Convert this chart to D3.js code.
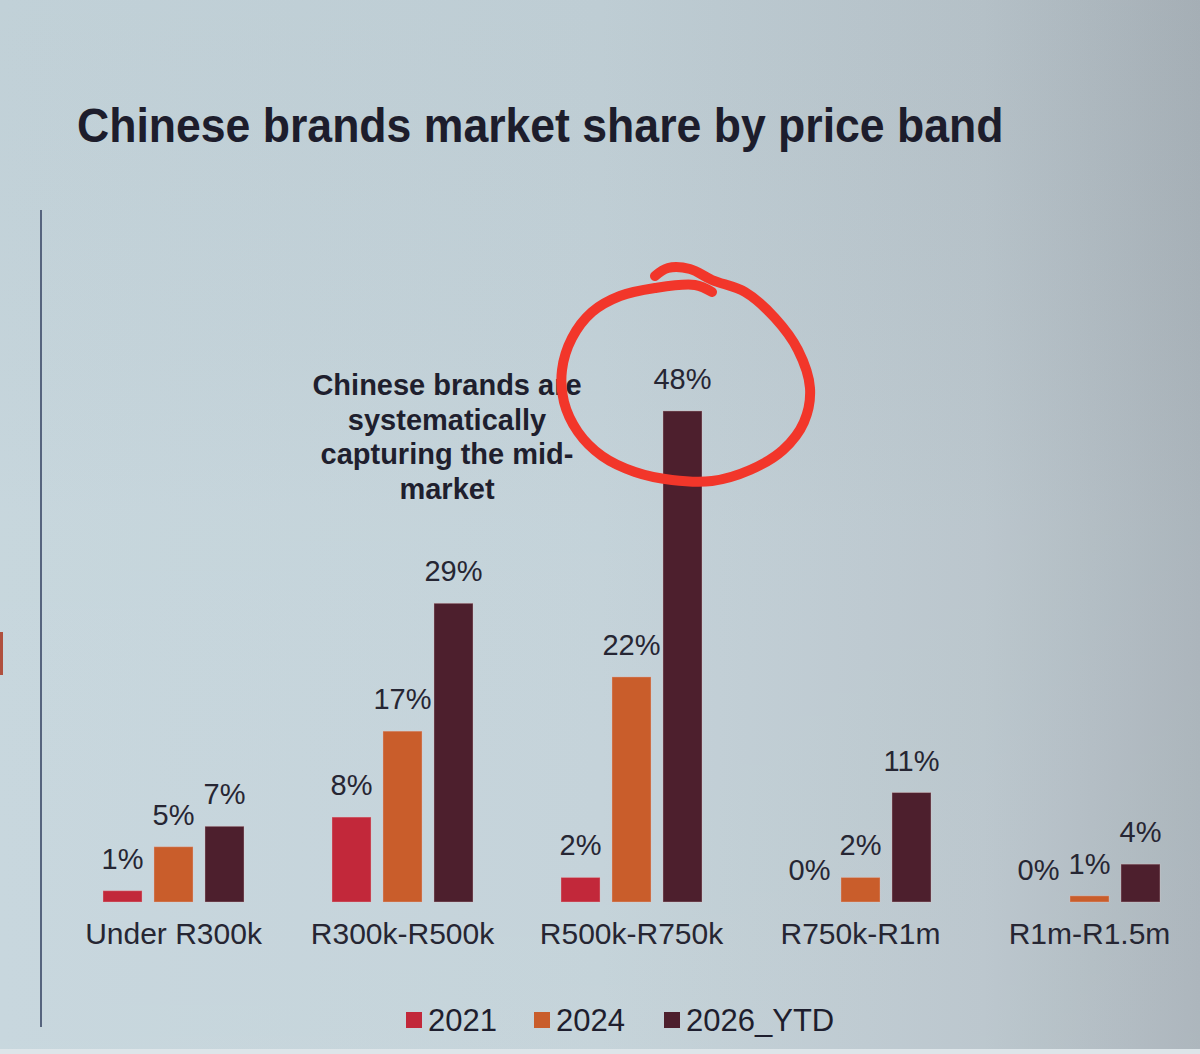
<!DOCTYPE html>
<html>
<head>
<meta charset="utf-8">
<script src="https://cdn.jsdelivr.net/npm/d3@7"></script>
<style>
  html, body { margin: 0; padding: 0; background: #c4d3da; }
  svg { display: block; }
</style>
</head>
<body>
<svg id="chart" width="1200" height="1054"></svg>
<script>
// ---- data ----
const categories = ["Under R300k", "R300k-R500k", "R500k-R750k", "R750k-R1m", "R1m-R1.5m"];
const series = ["2021", "2024", "2026_YTD"];
const values2021 = [1.1, 8.3, 2.4, 0, 0];
const values2024 = [5.4, 16.7, 22.0, 2.4, 0.6];
const values2026 = [7.4, 29.2, 48.0, 10.7, 3.7];
const colors = ["#c2283a", "#c95d2b", "#4d1f2d"];
const titleText = "Chinese brands market share by price band";
const noteLines = ["Chinese brands are", "systematically", "capturing the mid-", "market"];

const seriesValues = [values2021, values2024, values2026];
const rows = categories.map((c, i) => ({
  cat: c,
  vals: series.map((s, j) => ({ s, j, v: seriesValues[j][i] }))
}));

const svg = d3.select("#chart");
const W = 1200, H = 1054;
const FONT = "'Liberation Sans', Arial, Helvetica, sans-serif";

// background (photographed screen)
const defs = svg.append("defs");
const g1 = defs.append("linearGradient").attr("id", "bg").attr("x1", "0").attr("x2", "1").attr("y1", "0").attr("y2", "0");
g1.append("stop").attr("offset", "0").attr("stop-color", "#c5d5dc");
g1.append("stop").attr("offset", "0.5").attr("stop-color", "#c2d1d8");
g1.append("stop").attr("offset", "0.82").attr("stop-color", "#b8c4cb");
g1.append("stop").attr("offset", "1").attr("stop-color", "#a8b2b9");
svg.append("rect").attr("width", W).attr("height", H).attr("fill", "url(#bg)");
const g2 = defs.append("linearGradient").attr("id", "bgv").attr("x1", "0").attr("x2", "0").attr("y1", "0").attr("y2", "1");
g2.append("stop").attr("offset", "0").attr("stop-color", "#000000").attr("stop-opacity", 0.02);
g2.append("stop").attr("offset", "0.5").attr("stop-color", "#ffffff").attr("stop-opacity", 0.04);
g2.append("stop").attr("offset", "1").attr("stop-color", "#ffffff").attr("stop-opacity", 0.06);
svg.append("rect").attr("width", W).attr("height", H).attr("fill", "url(#bgv)");
svg.append("rect").attr("x", 0).attr("y", 1049).attr("width", W).attr("height", 5).attr("fill", "#dde5e9");

// left rule and edge mark
svg.append("line").attr("x1", 41).attr("x2", 41).attr("y1", 210).attr("y2", 1027)
  .attr("stroke", "#56647e").attr("stroke-width", 2);
svg.append("rect").attr("x", 0).attr("y", 632).attr("width", 3).attr("height", 43).attr("fill", "#b0503e");

// title (slightly condensed, as in the projected slide)
svg.append("text")
  .attr("transform", "translate(77,142) scale(0.91,1)")
  .attr("font-family", FONT).attr("font-weight", "bold").attr("font-size", 49)
  .attr("fill", "#1d1d2c").text(titleText);

// scales
const x0 = d3.scaleBand().domain(categories).range([59, 1204]).paddingInner(0).paddingOuter(0);
const bw = x0.bandwidth();
const x1 = d3.scaleBand().domain(series).range([bw / 2 - 70.5, bw / 2 + 70.5]).paddingInner(0.235).paddingOuter(0);
const y = d3.scaleLinear().domain([0, 50]).range([902, 390.5]);

const groups = svg.append("g").selectAll("g").data(rows).join("g")
  .attr("transform", d => `translate(${x0(d.cat)},0)`);

groups.selectAll("rect").data(d => d.vals).join("rect")
  .attr("x", d => x1(d.s))
  .attr("width", x1.bandwidth())
  .attr("y", d => y(d.v))
  .attr("height", d => y(0) - y(d.v))
  .attr("fill", d => colors[d.j])
  .attr("stroke", "#e9c9c9").attr("stroke-opacity", 0.35).attr("stroke-width", 1);

groups.selectAll("text.val").data(d => d.vals).join("text")
  .attr("class", "val")
  .attr("x", d => x1(d.s) + x1.bandwidth() / 2)
  .attr("y", d => y(d.v) - 22)
  .attr("text-anchor", "middle")
  .attr("font-family", FONT).attr("font-size", 29)
  .attr("fill", "#262633")
  .text(d => Math.round(d.v) + "%");

// category axis labels
const xAxis = d3.axisBottom(d3.scaleBand().domain(categories).range([59, 1204])).tickSize(0).tickPadding(0);
const ax = svg.append("g").attr("transform", `translate(0,${y(0)})`).call(xAxis);
ax.select(".domain").remove();
ax.selectAll("text")
  .attr("dy", null).attr("y", 42)
  .attr("font-family", FONT).attr("font-size", 30).attr("fill", "#262633");

// annotation
const note = svg.append("text").attr("font-family", FONT).attr("font-weight", "bold")
  .attr("font-size", 29).attr("fill", "#1f1f2e").attr("text-anchor", "middle");
noteLines.forEach((t, i) => {
  note.append("tspan").attr("x", 447).attr("y", 395 + i * 34.5).text(t);
});

// hand-drawn red circle
const circlePts = [
  [655, 276], [668, 268], [690, 269], [712, 280], [745, 292], [775, 318], [798, 350],
  [810, 388], [804, 422], [783, 450], [750, 470], [712, 481], [672, 480], [635, 472],
  [602, 456], [578, 432], [564, 402], [562, 370], [572, 338], [592, 312], [620, 296],
  [655, 288], [695, 285], [712, 292]
];
svg.append("path")
  .attr("d", d3.line().curve(d3.curveCatmullRom.alpha(0.5))(circlePts))
  .attr("fill", "none").attr("stroke", "#f2362a").attr("stroke-width", 10)
  .attr("stroke-linecap", "round").attr("stroke-linejoin", "round");

// legend
const legendItems = [
  { s: series[0], x: 406 },
  { s: series[1], x: 534 },
  { s: series[2], x: 664 }
];
const lg = svg.append("g").selectAll("g").data(legendItems).join("g")
  .attr("transform", d => `translate(${d.x},1010)`);
lg.append("rect").attr("width", 16).attr("height", 16).attr("y", 2)
  .attr("fill", (d, i) => colors[i]);
lg.append("text").attr("x", 22).attr("y", 21)
  .attr("font-family", FONT).attr("font-size", 31).attr("fill", "#1e1e2e")
  .text(d => d.s);
</script>
</body>
</html>
